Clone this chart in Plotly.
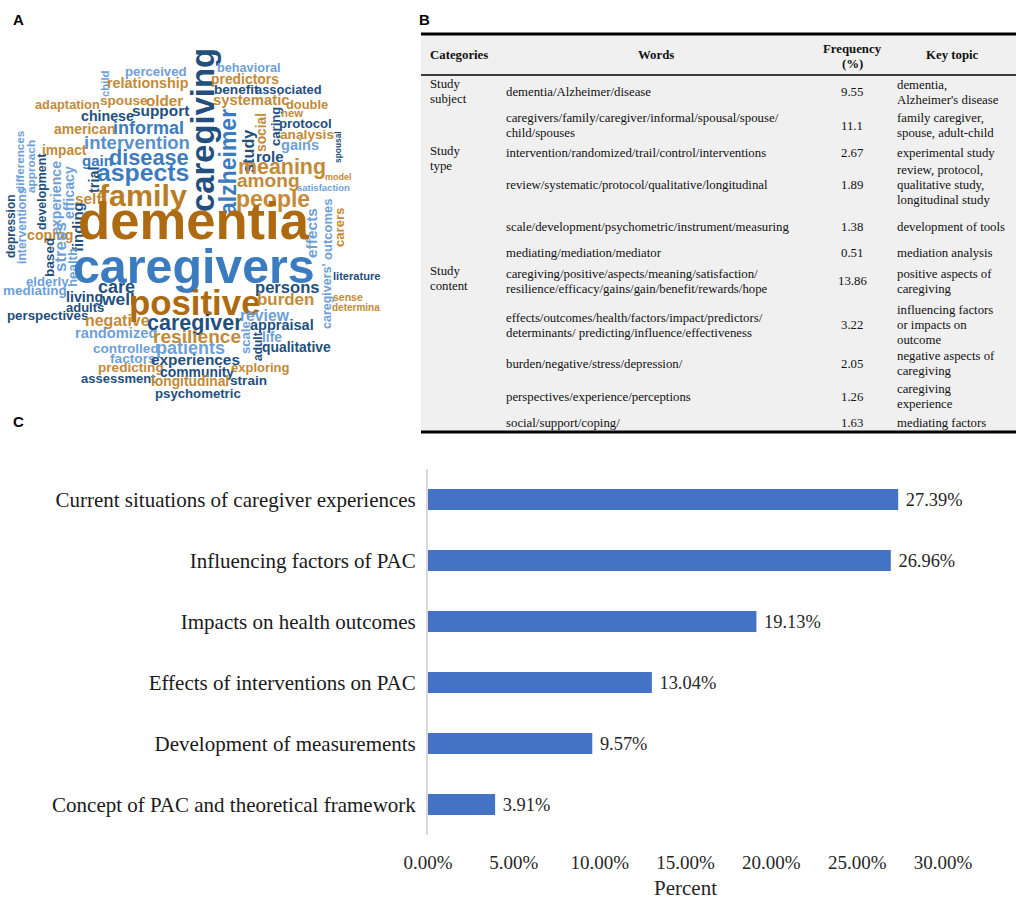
import plotly.graph_objects as go

W, H = 1021, 903

# ---------------- Panel C data ----------------
topics = [
    "Current situations of caregiver experiences",
    "Influencing factors of PAC",
    "Impacts on health outcomes",
    "Effects of interventions on PAC",
    "Development of measurements",
    "Concept of PAC and theoretical framework",
]
shares = [27.39, 26.96, 19.13, 13.04, 9.57, 3.91]
x_tick_values = [0, 5, 10, 15, 20, 25, 30]
x_title = "Percent"

# ---------------- Panel B data ----------------
table_header = ["Categories", "Words", "Frequency\n(%)", "Key topic"]
table_categories = ["Study\nsubject", "Study\ntype", "Study\ncontent"]
table_words = [
    "dementia/Alzheimer/disease",
    "caregivers/family/caregiver/informal/spousal/spouse/\nchild/spouses",
    "intervention/randomized/trail/control/interventions",
    "review/systematic/protocol/qualitative/longitudinal",
    "scale/development/psychometric/instrument/measuring",
    "mediating/mediation/mediator",
    "caregiving/positive/aspects/meaning/satisfaction/\nresilience/efficacy/gains/gain/benefit/rewards/hope",
    "effects/outcomes/health/factors/impact/predictors/\ndeterminants/ predicting/influence/effectiveness",
    "burden/negative/stress/depression/",
    "perspectives/experience/perceptions",
    "social/support/coping/",
]
table_frequency = ["9.55", "11.1", "2.67", "1.89", "1.38", "0.51", "13.86", "3.22", "2.05", "1.26", "1.63"]
table_topics = [
    "dementia,\nAlzheimer's disease",
    "family caregiver,\nspouse, adult-child",
    "experimental study",
    "review, protocol,\nqualitative study,\nlongitudinal study",
    "development of tools",
    "mediation analysis",
    "positive aspects of\ncaregiving",
    "influencing factors\nor impacts on\noutcome",
    "negative aspects of\ncaregiving",
    "caregiving\nexperience",
    "mediating factors",
]

# ---------------- Panel A data ----------------
cloud_words = [
    "caregiving", "alzheimer", "study", "social", "caring", "behavioral", "predictors",
    "benefit", "associated", "systematic", "double", "new", "protocol", "analysis",
    "gains", "role", "meaning", "among", "people", "satisfaction", "model", "perceived",
    "child", "relationship", "adaptation", "spouse", "older", "chinese", "support",
    "american", "informal", "intervention", "differences", "approach", "impact", "gain",
    "disease", "aspects", "development", "experience", "efficacy", "trial", "self",
    "family", "depression", "interventions", "coping", "finding", "based", "stress",
    "health", "elderly", "mediating", "care", "living", "well", "adults", "perspectives",
    "negative", "randomized", "controlled", "patients", "factors", "experiences",
    "predicting", "community", "exploring", "assessment", "longitudinal", "strain",
    "psychometric", "dementia", "caregivers", "positive", "caregiver", "resilience",
    "review", "persons", "burden", "appraisal", "scale", "adult", "life", "qualitative",
    "caregivers'", "outcomes", "effects", "carers", "spousal", "literature", "sense",
    "determina",
]

# ---------------- layout / styling (positions in page pixels) ----------------
N, M, M2, L, O, D, F = "#234f7d", "#3b7bbf", "#5a8fcd", "#6e9fd8", "#c38a37", "#ad6a10", "#b97b24"
# (colour, centre x, centre y, length along text, angle)
cloud_places = [
    (N, 202, 130, 155, -90), (M, 228, 162, 100, -90), (N, 248, 152, 41, -90),
    (O, 261, 133, 37, -90), (N, 275, 127, 37, -90), (L, 248, 68, 60, 0),
    (O, 245, 79, 64, 0), (N, 236, 90, 42, 0), (N, 288, 90, 63, 0),
    (O, 251, 100, 72, 0), (O, 307, 104, 40, 0), (O, 292, 113, 21, 0),
    (N, 305, 123, 50, 0), (O, 307, 134, 51, 0), (L, 300, 145, 36, 0),
    (N, 270, 156, 26, 0), (O, 282, 167, 83, 0), (O, 268, 181, 59, 0),
    (O, 273, 199, 70, 0), (L, 323, 187, 50, 0), (O, 338, 177, 25, 0),
    (L, 156, 72, 58, 0), (L, 105, 84, 25, -90), (O, 148, 83, 77, 0),
    (O, 67, 104, 61, 0), (O, 124, 100, 45, 0), (O, 164, 100, 35, 0),
    (N, 107, 116, 50, 0), (N, 160, 110, 54, 0), (O, 84, 129, 58, 0),
    (M, 148, 128, 67, 0), (M2, 137, 142, 100, 0), (L, 19, 162, 59, -90),
    (L, 31, 167, 50, -90), (O, 64, 151, 42, 0), (M, 97, 160, 29, 0),
    (M, 149, 157, 75, 0), (M, 143, 173, 87, 0), (N, 42, 192, 72, -90),
    (L, 56, 198, 70, -90), (L, 69, 193, 50, -90), (N, 94, 180, 25, -90),
    (O, 88, 199, 25, 0), (F, 143, 195, 83, 0), (N, 11, 227, 60, -90),
    (L, 22, 226, 72, -90), (O, 50, 235, 44, 0), (N, 78, 227, 47, -90),
    (N, 49, 258, 37, -90), (L, 61, 247, 47, -90), (L, 72, 268, 37, -90),
    (L, 47, 281, 40, 0), (L, 35, 290, 60, 0), (N, 116, 287, 35, 0),
    (N, 84, 297, 35, 0), (N, 118, 299, 31, 0), (N, 85, 307, 36, 0),
    (N, 47, 316, 77, 0), (O, 117, 320, 61, 0), (L, 116, 333, 78, 0),
    (L, 126, 348, 62, 0), (L, 190, 348, 65, 0), (L, 133, 358, 43, 0),
    (N, 195, 360, 84, 0), (O, 131, 368, 62, 0), (N, 197, 372, 70, 0),
    (O, 260, 368, 55, 0), (N, 118, 378, 70, 0), (O, 190, 382, 74, 0),
    (N, 248, 380, 35, 0), (N, 198, 393, 81, 0), (D, 194, 221, 218, 0),
    (M, 194, 266, 228, 0), (D, 195, 302, 124, 0), (N, 195, 323, 90, 0),
    (O, 197, 337, 83, 0), (L, 265, 316, 46, 0), (N, 287, 287, 61, 0),
    (O, 285, 300, 54, 0), (N, 282, 325, 60, 0), (L, 246, 338, 31, -90),
    (N, 258, 347, 27, -90), (L, 272, 337, 19, 0), (N, 296, 347, 65, 0),
    (L, 327, 296, 62, -90), (L, 327, 230, 58, -90), (L, 312, 233, 47, -90),
    (O, 339, 228, 37, -90), (N, 338, 147, 30, -90), (N, 356, 276, 45, 0),
    (O, 348, 297, 28, 0), (O, 356, 307, 45, 0),
]

CLOUD_FONT = "Liberation Sans, Arial, sans-serif"
SERIF = "Liberation Serif, Times New Roman, serif"
SANS = "Liberation Sans, Arial, sans-serif"

# advance widths (em) of Arial/Liberation Sans Bold lowercase
_adv = dict(a=.556, b=.611, c=.556, d=.611, e=.556, f=.333, g=.611, h=.611, i=.278, j=.278,
            k=.556, l=.278, m=.889, n=.611, o=.611, p=.611, q=.611, r=.389, s=.556, t=.333,
            u=.611, v=.556, w=.778, x=.556, y=.556, z=.5)


def fit_size(word, length):
    em = sum(_adv.get(ch, .238) for ch in word)
    return length / em * 1.06


def px(x):
    return x / W


def py(y):
    return 1 - y / H


annotations = []

# Panel letters
for letter, (lx, ly) in zip("ABC", [(18, 20), (424, 20), (18, 421)]):
    annotations.append(dict(x=px(lx), y=py(ly), xref="paper", yref="paper", text=f"<b>{letter}</b>",
                            showarrow=False, xanchor="center", yanchor="middle",
                            font=dict(family=SANS, size=15, color="#000000")))

# Word cloud
for word, (col, cx, cy, length, ang) in zip(cloud_words, cloud_places):
    annotations.append(dict(x=px(cx), y=py(cy), xref="paper", yref="paper", text=f"<b>{word}</b>",
                            showarrow=False, textangle=ang, xanchor="center", yanchor="middle",
                            font=dict(family=CLOUD_FONT, size=round(fit_size(word, length), 1), color=col),
                            borderpad=0))

# Table text
LINE = 15
TFS = 12.8


def put_lines(text, x, yc, anchor, size=TFS, bold=False):
    lines = text.split("\n")
    n = len(lines)
    for k, ln in enumerate(lines):
        y = yc + (k - (n - 1) / 2) * LINE
        t = f"<b>{ln}</b>" if bold else ln
        annotations.append(dict(x=px(x), y=py(y), xref="paper", yref="paper", text=t, showarrow=False,
                                xanchor=anchor, yanchor="middle", borderpad=0,
                                font=dict(family=SERIF, size=size, color="#111111")))


header_pos = [(429, "left", 55), (656, "center", 55), (852, "center", 56.5), (952, "center", 55)]
for text, (hx, anc, hy) in zip(table_header, header_pos):
    put_lines(text, hx, hy, anc, bold=True)

category_y = [91.5, 158.5, 278]
for text, cy in zip(table_categories, category_y):
    put_lines(text, 429, cy, "left")

row_y = [92, 125.5, 153, 185, 227, 253, 281.5, 325, 364, 396.5, 423]
for w, f, k, ry in zip(table_words, table_frequency, table_topics, row_y):
    put_lines(w, 505, ry, "left")
    put_lines(f, 852, ry, "center")
    put_lines(k, 896, ry, "left")

shapes = [
    dict(type="rect", xref="paper", yref="paper", x0=px(421), x1=px(1016), y0=py(432), y1=py(34),
         fillcolor="#f0f0f0", line=dict(width=0), layer="below"),
    dict(type="line", xref="paper", yref="paper", x0=px(421), x1=px(1016), y0=py(34), y1=py(34),
         line=dict(color="#000000", width=3)),
    dict(type="line", xref="paper", yref="paper", x0=px(421), x1=px(1016), y0=py(75), y1=py(75),
         line=dict(color="#000000", width=1.5)),
    dict(type="line", xref="paper", yref="paper", x0=px(421), x1=px(1016), y0=py(432), y1=py(432),
         line=dict(color="#000000", width=3)),
]

fig = go.Figure()
fig.add_trace(go.Bar(
    x=[v / 100 for v in shares], y=topics, orientation="h",
    marker=dict(color="#4472C4", line=dict(width=0)),
    width=0.345, texttemplate=" %{x:.2%}", textposition="outside",
    textfont=dict(family=SERIF, size=21, color="#262626"), cliponaxis=False,
    hoverinfo="x+y",
))

fig.update_layout(
    template="none",
    width=W, height=H, margin=dict(l=0, r=0, t=0, b=0, pad=0, autoexpand=False),
    paper_bgcolor="white", plot_bgcolor="white", showlegend=False,
    annotations=annotations, shapes=shapes,
    xaxis=dict(domain=[px(428), px(943)], range=[0, 0.30], tickvals=[v / 100 for v in x_tick_values],
               tickformat=".2%", showgrid=False, zeroline=False, showline=False, ticks="",
               automargin=False,
               tickfont=dict(family=SERIF, size=19, color="#262626"), ticklabelstandoff=14,
               title=dict(text=x_title, font=dict(family=SERIF, size=21, color="#262626"), standoff=8),
               fixedrange=True),
    yaxis=dict(domain=[py(835), py(469)], autorange="reversed", showline=True, linecolor="#d9d9d9",
               linewidth=2, ticks="", showgrid=False, zeroline=False, automargin=False,
               tickfont=dict(family=SERIF, size=21, color="#1a1a1a"), ticklabelstandoff=6,
               fixedrange=True),
)

fig.write_html("out.html", config={"displayModeBar": False},
               post_script="document.body.style.margin='0px';")
